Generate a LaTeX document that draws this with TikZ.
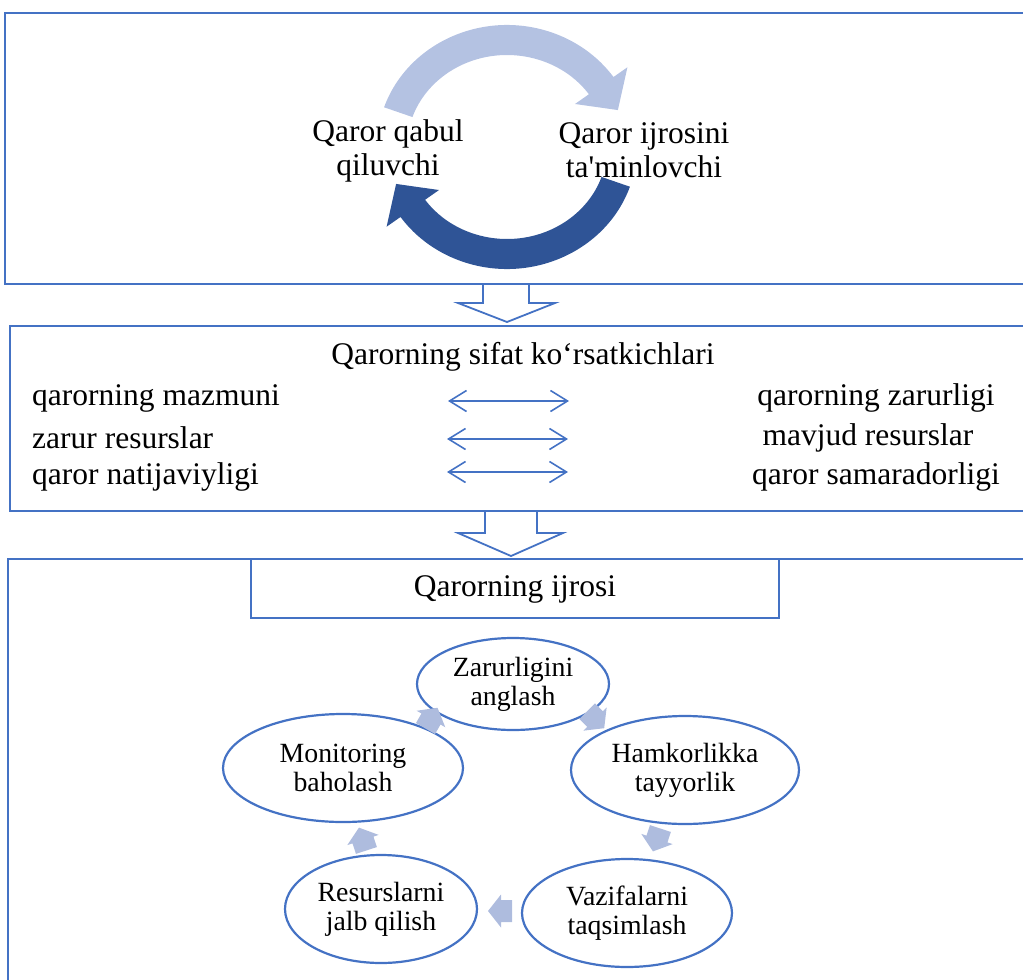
\documentclass[tikz,border=0pt]{standalone}
\usepackage{fontspec}
\setmainfont{Liberation Serif}
\usetikzlibrary{shapes.geometric,arrows.meta,calc}
\definecolor{boxblue}{RGB}{68,114,196}
\definecolor{lightarc}{RGB}{180,194,226}
\definecolor{darkarc}{RGB}{47,84,150}
\definecolor{smallarr}{RGB}{174,188,222}
\tikzset{
 frame/.style={draw=boxblue, line width=1.8pt},
 lbl/.style={font=\fontsize{31.5}{34}\selectfont, inner sep=0pt, align=center},
 cyc/.style={ellipse, draw=boxblue, line width=2.2pt, inner sep=0pt, align=center, font=\fontsize{27.8}{29}\selectfont},
 dbl/.style={boxblue, line width=1.6pt, {Straight Barb[length=17pt,width=21pt]}-{Straight Barb[length=17pt,width=21pt]}},
 hollow/.style={draw=boxblue, line width=1.8pt, line join=miter},
 blockarr/.style={fill=smallarr},
}
\newcommand\cycarr[3]{\fill[blockarr, shift={(#1,#2)}, rotate=-#3] (-11,-11) -- (0,-11) -- (0,-16.5) -- (13,0) -- (0,16.5) -- (0,11) -- (-11,11) -- cycle;}
\begin{document}
\begin{tikzpicture}[x=1pt,y=-1pt]
\useasboundingbox (0,0) rectangle (1023,980);
\clip (0,0) rectangle (1023,980);
% frames
\draw[frame] (1040,13) -- (5,13) -- (5,284) -- (1040,284);
\draw[frame] (1040,326) -- (10,326) -- (10,511) -- (1040,511);
\draw[frame] (1040,559) -- (8,559) -- (8,1000);
\draw[frame] (251,559) rectangle (779,618);
% hollow arrows
\draw[hollow] (483,284) -- (483,303) -- (458,303) -- (507,322) -- (555,303) -- (529,303) -- (529,284);
\draw[hollow] (485,511) -- (485,533) -- (458,533) -- (511,556) -- (563,533) -- (537,533) -- (537,511);
% top cycle
\coordinate (c) at (507,147);
\fill[lightarc] ($(c)+(-161:130 and 122)$) arc[start angle=-161, end angle=-35, x radius=130, y radius=122]
  -- ($(c)+(-35:147 and 139)$) -- ($(c)+(-20:118 and 108)$) -- ($(c)+(-35:83 and 75)$)
  -- ($(c)+(-35:100 and 92)$) arc[start angle=-35, end angle=-161, x radius=100, y radius=92] -- cycle;
\fill[darkarc] ($(c)+(19:130 and 122)$) arc[start angle=19, end angle=145, x radius=130, y radius=122]
  -- ($(c)+(145:147 and 139)$) -- ($(c)+(160:118 and 108)$) -- ($(c)+(145:83 and 75)$)
  -- ($(c)+(145:100 and 92)$) arc[start angle=145, end angle=19, x radius=100, y radius=92] -- cycle;
\node[lbl] (qq) at (388,151) {Qaror qabul\\qiluvchi};
\node[lbl] (qi) at (644,150) {Qaror ijrosini\\ta\textquotesingle minlovchi};
% quality box
\node[lbl] (title) at (523,357) {Qarorning sifat ko‘rsatkichlari};
\node[lbl, anchor=west] (l1) at (32,398) {qarorning mazmuni};
\node[lbl, anchor=west] (l2) at (32,438) {zarur resurslar};
\node[lbl, anchor=west] (l3) at (32,477) {qaror natijaviyligi};
\node[lbl] (r1) at (876,398) {qarorning zarurligi};
\node[lbl] (r2) at (868,438) {mavjud resurslar};
\node[lbl] (r3) at (876,477) {qaror samaradorligi};
\coordinate (a1l) at (448,401); \coordinate (a1r) at (569,401);
\coordinate (a2l) at (447,439); \coordinate (a2r) at (568,439);
\coordinate (a3l) at (447,472); \coordinate (a3r) at (568,472);
\draw[dbl] (a1l) -- (a1r);
\draw[dbl] (a2l) -- (a2r);
\draw[dbl] (a3l) -- (a3r);
% execution box
\node[lbl] (ijro) at (515,589) {Qarorning ijrosi};
\node[cyc, minimum width=192pt, minimum height=92pt] (zar) at (513,684) {Zarurligini\\anglash};
\node[cyc, minimum width=228pt, minimum height=108pt] (ham) at (685,770) {Hamkorlikka\\tayyorlik};
\node[cyc, minimum width=210pt, minimum height=108pt] (vaz) at (627,913) {Vazifalarni\\taqsimlash};
\node[cyc, minimum width=192pt, minimum height=108pt] (res) at (381,909) {Resurslarni\\jalb qilish};
\node[cyc, minimum width=240pt, minimum height=108pt] (mon) at (343,768) {Monitoring\\baholash};
\cycarr{595}{719}{45}
\cycarr{657}{839}{108}
\cycarr{501}{911}{180}
\cycarr{363}{840}{252}
\cycarr{431}{719}{300}
\end{tikzpicture}
\end{document}
